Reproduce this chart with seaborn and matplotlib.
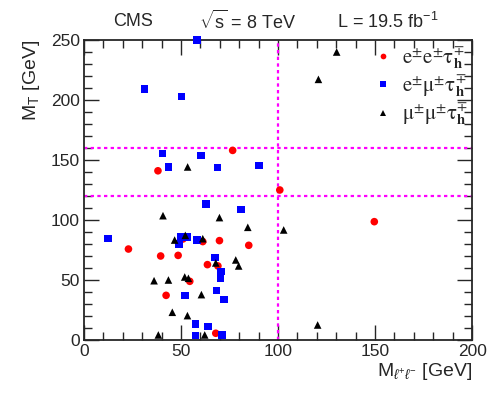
import pandas as pd
import matplotlib
matplotlib.use('Agg')
import matplotlib.pyplot as plt
from matplotlib.font_manager import FontProperties
from matplotlib.ticker import MultipleLocator
import seaborn as sns

# e e tau_h candidates (red circles)
ee_mll = [38.1, 76.6, 100.9, 22.9, 39.5, 48.5, 51.0, 61.2, 69.8, 84.9, 63.6, 69.0, 54.5, 42.3, 67.9, 149.6]
ee_mt = [141.0, 158.0, 125.0, 75.8, 70.0, 70.5, 84.2, 82.0, 82.8, 78.9, 62.8, 61.7, 48.9, 37.2, 5.6, 98.6]

# e mu tau_h candidates (blue squares)
em_mll = [58.1, 31.1, 50.3, 40.5, 43.6, 60.3, 68.7, 90.2, 62.9, 80.8, 12.5, 50.0, 53.3, 49.0, 58.1,
          67.5, 70.6, 70.4, 51.9, 68.2, 72.2, 57.4, 63.8, 57.4, 71.0]
em_mt = [250.0, 209.0, 203.0, 155.5, 144.2, 153.6, 143.9, 145.5, 113.3, 108.6, 84.7, 85.6, 85.6, 80.0, 83.3,
         68.9, 57.2, 51.1, 37.2, 41.4, 33.9, 13.1, 11.4, 3.6, 4.4]

# mu mu tau_h candidates (black triangles)
mm_mll = [53.4, 40.7, 69.8, 84.4, 102.9, 46.7, 52.2, 61.2, 78.2, 79.7, 67.9, 36.1, 43.5, 51.9, 53.8,
          60.5, 45.5, 53.3, 38.3, 62.2, 130.2, 120.8, 120.4]
mm_mt = [144.2, 103.6, 102.0, 93.9, 91.7, 83.3, 87.2, 84.4, 66.7, 61.7, 64.2, 49.4, 50.0, 52.5, 51.4,
         37.8, 23.1, 20.3, 4.2, 4.2, 240.0, 217.2, 12.5]

channels = ['ee', 'em', 'mm']
channel_labels = [r'$\mathrm{e}^{\pm}\mathrm{e}^{\pm}\mathrm{\tau}^{\mp}_{\mathbf{h}}$',
                  r'$\mathrm{e}^{\pm}\mathrm{\mu}^{\pm}\mathrm{\tau}^{\mp}_{\mathbf{h}}$',
                  r'$\mathrm{\mu}^{\pm}\mathrm{\mu}^{\pm}\mathrm{\tau}^{\mp}_{\mathbf{h}}$']
mt_cuts = [120, 160]
mll_cut = 100

sns.set_style('ticks')
plt.rcParams['font.family'] = ['Liberation Sans', 'DejaVu Sans']
plt.rcParams['mathtext.fontset'] = 'custom'
plt.rcParams['mathtext.rm'] = 'Liberation Sans'
plt.rcParams['mathtext.it'] = 'Liberation Sans:italic'

df = pd.DataFrame({
    'mll': ee_mll + em_mll + mm_mll,
    'mt': ee_mt + em_mt + mm_mt,
    'channel': ['ee'] * len(ee_mll) + ['em'] * len(em_mll) + ['mm'] * len(mm_mll),
})

fig = plt.figure(figsize=(4.98, 3.93), dpi=100)
ax = fig.add_axes([0.1687, 0.1349, 0.7793, 0.7633])

# selection cuts
for cut in mt_cuts:
    ax.axhline(cut, color='#ff00ff', ls=(0, (1.5, 1.5)), lw=1.6, zorder=1)
ax.axvline(mll_cut, color='#ff00ff', ls=(0, (1.5, 1.5)), lw=1.6, zorder=1)

sns.scatterplot(data=df, x='mll', y='mt', hue='channel', style='channel',
                hue_order=channels, style_order=channels,
                palette={'ee': '#ff0000', 'em': '#0000ff', 'mm': '#000000'},
                markers={'ee': 'o', 'em': 's', 'mm': '^'},
                s=30, linewidth=0, ax=ax, zorder=3, clip_on=False)

ax.set_xlim(0, 200)
ax.set_ylim(0, 250)
ax.xaxis.set_major_locator(MultipleLocator(50))
ax.xaxis.set_minor_locator(MultipleLocator(10))
ax.yaxis.set_major_locator(MultipleLocator(50))
ax.yaxis.set_minor_locator(MultipleLocator(10))
ax.tick_params(which='both', direction='in', top=True, right=True, width=1.0, labelsize=12.5, pad=3)
ax.tick_params(which='major', length=11)
ax.tick_params(which='minor', length=5.5)
for sp in ax.spines.values():
    sp.set_linewidth(1.3)

ax.set_xlabel(r'M$_{\ell^{+}\ell^{-}}$ [GeV]', fontsize=14, loc='right', labelpad=1)
ax.set_ylabel(r'M$_{\mathrm{T}}$ [GeV]', fontsize=14, loc='top', labelpad=6)

handles, _ = ax.get_legend_handles_labels()
legend_font = FontProperties(family='Liberation Serif', size=15, math_fontfamily='stix')
ax.legend(handles[-3:], channel_labels, loc='upper left', bbox_to_anchor=(0.695, 1.01),
          frameon=False, prop=legend_font, handletextpad=-0.1, labelspacing=0.12,
          markerscale=0.75, borderaxespad=0)

fig.text(0.268, 0.945, 'CMS', fontsize=13, ha='center', va='center')
fig.text(0.40, 0.945, r'$\sqrt{\mathrm{s}}$ = 8 TeV', fontsize=13, ha='left', va='center')
fig.text(0.677, 0.945, r'L = 19.5 fb$^{\mathrm{-1}}$', fontsize=13, ha='left', va='center')

fig.savefig('out.png', dpi=100)
